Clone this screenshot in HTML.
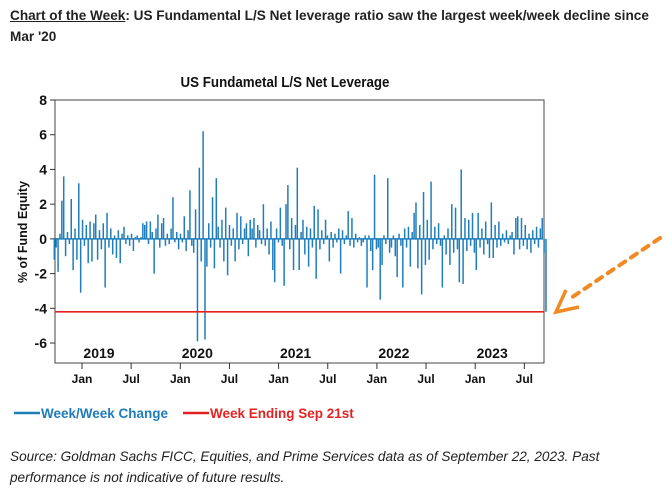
<!DOCTYPE html>
<html><head><meta charset="utf-8"><style>
body{margin:0;background:#fff;width:667px;height:491px;overflow:hidden;font-family:"Liberation Sans",sans-serif;}
#hdr{position:absolute;left:10px;top:5px;width:656px;font-size:13.6px;font-weight:bold;line-height:21px;color:#222;}
#src{position:absolute;left:10px;top:446px;width:620px;font-size:13.6px;font-style:italic;line-height:21px;color:#222;}
svg{position:absolute;left:0;top:0;}
</style></head><body>
<div id="hdr"><u>Chart of the Week</u>: US Fundamental L/S Net leverage ratio saw the largest week/week decline since Mar '20</div>
<svg id="chart" width="667" height="491"></svg>
<div id="src">Source: Goldman Sachs FICC, Equities, and Prime Services data as of September 22, 2023. Past performance is not indicative of future results.</div>
<script>
const yTicks=[8,6,4,2,0,-2,-4,-6];
const yearLabels=["2019","2020","2021","2022","2023"];
const monthLabels=["Jan","Jul","Jan","Jul","Jan","Jul","Jan","Jul","Jan","Jul"];
const monthTimes=[2019.0,2019.5,2020.0,2020.5,2021.0,2021.5,2022.0,2022.5,2023.0,2023.5];
const refValue=-4.2;
const weeklyChange=[
-1.2,-0.5,-1.9,0.3,2.2,3.6,-1.0,0.4,-0.3,2.3,-1.8,0.6,-1.2,3.2,-3.1,1.1,-0.4,0.8,-1.4,1.0,
-1.3,0.9,1.4,-1.2,0.5,-0.6,0.9,-2.8,1.5,-0.5,0.6,-0.9,0.2,-1.1,0.5,-1.4,0.3,0.7,-0.3,0.2,
-0.4,0.3,-0.7,0.1,0.2,-0.2,0.1,0.9,0.8,1.0,-0.3,1.0,0.4,-2.0,0.6,1.4,-0.5,0.9,1.2,-0.4,
0.3,-0.3,0.6,2.4,-0.2,0.4,-0.6,0.3,-0.2,1.3,-0.7,0.5,2.8,-0.4,-0.8,1.7,-5.9,4.1,-1.3,6.2,
-5.8,-1.6,0.9,-0.5,2.4,-1.7,3.5,0.7,-0.5,1.1,-1.3,1.8,-2.1,0.8,-0.4,0.6,-1.3,1.5,-0.6,1.3,
-0.3,0.6,0.9,-1.0,1.1,0.6,1.2,-0.5,0.8,0.5,-0.3,2.0,-0.4,0.6,-0.9,1.0,-1.8,-2.5,0.6,-0.2,
1.8,-0.4,-2.7,2.0,3.1,-0.6,1.2,-1.8,0.8,4.1,-1.8,0.4,1.1,-0.9,0.7,-1.6,0.6,-0.5,1.9,-2.3,
1.7,-0.6,0.5,-0.3,1.1,0.2,-1.3,0.4,-0.5,0.3,-0.2,0.6,-2.0,0.5,-0.3,0.2,1.6,-0.4,1.2,-0.5,
0.3,-0.2,0.1,-0.4,-0.2,0.2,-2.8,0.2,-0.7,-1.8,3.7,-0.6,-0.5,-3.5,-1.5,0.2,-0.3,3.5,-0.8,-0.5,
0.2,-1.0,-2.2,0.3,-0.4,-2.8,0.6,-0.5,0.7,-1.6,0.4,1.5,2.1,-1.7,0.8,-3.2,2.7,-1.5,1.1,-1.2,
3.3,-0.6,0.7,-0.3,0.9,-0.4,-2.8,0.2,-0.9,0.6,-1.5,2.0,-0.8,1.8,-0.6,-2.5,4.0,-2.6,1.2,-0.7,
1.1,-0.4,1.5,-0.8,-1.8,1.5,-0.5,0.6,-0.9,1.0,-0.3,-1.1,2.1,-1.1,0.8,-0.5,1.0,-0.4,0.3,-0.2,
0.5,-0.3,0.2,0.4,-0.9,1.2,1.3,-0.6,1.2,-0.4,0.8,-0.6,0.3,-0.8,0.5,-0.3,0.7,-0.5,0.6,1.2,
-0.8,-4.2];
const endTime=2023.72;
const L=55,R=544,T=100,B=363;
const NS="http://www.w3.org/2000/svg";
const svg=document.getElementById('chart');
function y(v){return T+(8-v)*17.36;}
function xt(t){return 82+(t-2019.0)*98.3;}
function mk(tag,attrs,txt){const e=document.createElementNS(NS,tag);for(const k in attrs)e.setAttribute(k,attrs[k]);if(txt!==undefined)e.textContent=txt;svg.appendChild(e);return e;}
let e;
e=mk('text',{x:0,y:0,transform:'translate(285,87) scale(0.92,1)','text-anchor':'middle','font-size':14.5,'font-weight':'bold',fill:'#111'},'US Fundametal L/S Net Leverage');


e=mk('rect',{x:L,y:T,width:R-L,height:B-T,fill:'none',stroke:'#444','stroke-width':1});


yTicks.forEach(v=>{
  e=mk('line',{x1:L-5,x2:L,y1:y(v),y2:y(v),stroke:'#333'});
  
  
  e=mk('text',{x:L-8,y:y(v)+5,'text-anchor':'end','font-size':14,'font-weight':'bold',fill:'#111'},String(v));
  
  
});
e=mk('text',{x:0,y:0,transform:'translate(27,232) rotate(-90)','text-anchor':'middle','font-size':12.5,'font-weight':'bold',fill:'#111'},'% of Fund Equity');


monthTimes.forEach((t,i)=>{
  e=mk('line',{x1:xt(t),x2:xt(t),y1:B,y2:B+6,stroke:'#333'});
  
  
  e=mk('text',{x:xt(t),y:B+20,'text-anchor':'middle','font-size':12,'font-weight':'bold',fill:'#111'},monthLabels[i]);
  
  
});
yearLabels.forEach((s,i)=>{
  e=mk('text',{x:xt(2019+i)+17,y:358,'text-anchor':'middle','font-size':14,'font-weight':'bold',fill:'#111'},s);
  
  
});
const n=weeklyChange.length;
e=mk('line',{x1:L,x2:R-1,y1:y(0),y2:y(0),stroke:'#1f7dba','stroke-width':1.5});


weeklyChange.forEach((v,i)=>{
  const t=endTime-(n-1-i)/52.18;
  const b=mk('line',{x1:xt(t),x2:xt(t),y1:y(0),y2:y(v),stroke:'#1f7dba','stroke-width':1.5});
  
  
});
e=mk('line',{x1:L,x2:R,y1:y(refValue),y2:y(refValue),stroke:'#e52222','stroke-width':1.6});


e=mk('line',{x1:660,y1:238,x2:568,y2:300,stroke:'#f08a24','stroke-width':4,'stroke-dasharray':'7,7','stroke-linecap':'round'});


e=mk('polyline',{points:'566,290 556,312 579,307',fill:'none',stroke:'#f08a24','stroke-width':3.5,'stroke-linejoin':'miter'});


e=mk('line',{x1:14,x2:40,y1:413,y2:413,stroke:'#1f7dba','stroke-width':2.5});


e=mk('text',{x:41,y:418,'font-size':13.5,'font-weight':'bold',fill:'#1f7dba'},'Week/Week Change');


e=mk('line',{x1:183,x2:209,y1:413,y2:413,stroke:'#e52222','stroke-width':2.5});


e=mk('text',{x:210,y:418,'font-size':13.5,'font-weight':'bold',fill:'#e52222'},'Week Ending Sep 21st');


</script>
</body></html>
